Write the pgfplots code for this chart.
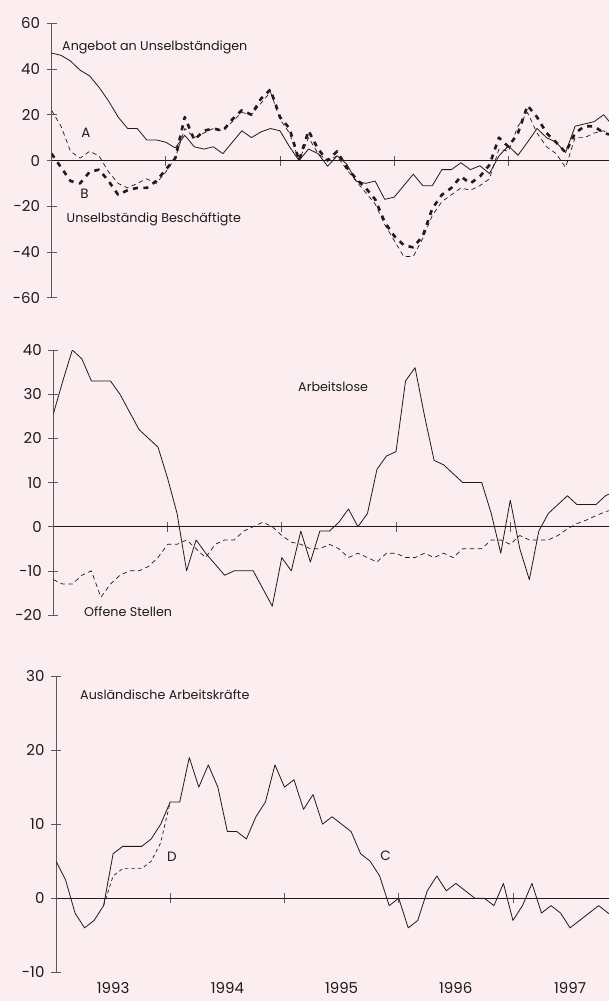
\documentclass[border=0pt]{standalone}
\usepackage{pgfplots}
\usepackage{pgfplotstable}
\pgfplotsset{compat=1.18}
\usepackage{fontspec}
\setmainfont{Poppins}

\definecolor{bgpink}{RGB}{252,237,241}
\definecolor{ink}{RGB}{28,28,28}
\definecolor{axisgray}{RGB}{90,90,90}

% Monthly changes against previous year, Jan 1993 = 0
\pgfplotstableread{
m  ang   a    b
0  47    22   3
1  46    15   -3
2  43.5  4    -9
3  39.5  1    -10
4  37    4    -5
5  32    2    -4
6  26    -5   -9
7  19    -10  -15
8  14    -12  -13
9  14    -10  -12
10 9     -8   -12
11 9     -10  -9
12 8     -5   -4
13 5.5   1    1
14 11    14   19
15 6     10   9
16 5     12   13
17 6     14   14
18 3     13   13
19 8     17   18
20 13    21   22
21 10    20   20
22 12.5  25   27
23 14    30   31
24 13    18   19
25 6     12   14
26 0     0    0
27 5     10   13
28 3     3    5
29 -2.5  0    0
30 2     2    4
31 -1.5  -4   -3
32 -9    -9   -8
33 -10   -14  -12
34 -9    -19  -17
35 -17   -28  -27
36 -16   -35  -33
37 -11   -42  -37
38 -6    -42  -38
39 -11   -34  -33
40 -11   -24  -21
41 -4    -18  -15
42 -4    -15  -12
43 -1    -12  -7
44 -4    -13  -10
45 -2.3  -11  -7
46 -5.7  -8   -2
47 2     5    10
48 6.4   4    6
49 2.3   15   12
50 8     21   24
51 14    12   19
52 10    6    12
53 8     3    8
54 3.5   -3   3.5
55 15    10   12
56 16    10   15
57 17    12   15
58 20    13   12
59 15    10   11
}\angebot

\pgfplotstableread{
m  arb   off
0  25.5  -12
1  33    -13
2  40    -13
3  38    -11
4  33    -10
5  33    -16
6  33    -13
7  30    -11
8  26    -10
9  22    -10
10 20    -9
11 18    -7
12 11    -4
13 3     -4
14 -10   -3
15 -3    -5
16 -6    -7
17 -8.5  -4
18 -11   -3
19 -10   -3
20 -10   -1
21 -10   0
22 -14   1
23 -18   0
24 -7    -2
25 -10   -3.5
26 -1    -4
27 -8    -5
28 -1    -5
29 -1    -4
30 1     -5
31 4     -7
32 0     -6
33 3     -7
34 13    -8
35 16    -6
36 17    -6
37 33    -7
38 36    -7
39 25    -6
40 15    -7
41 14    -6
42 12    -7
43 10    -5
44 10    -5
45 10    -5
46 3     -3
47 -6    -3
48 6     -4
49 -5    -2
50 -12   -3
51 -1    -3
52 3     -3
53 5     -2
54 7     -0.5
55 5     0.7
56 5     1.5
57 5     2.5
58 7     3.4
59 8     4
}\arbeitslose

\pgfplotstableread{
m  aus
0  5
1  2.5
2  -2
3  -4
4  -3
5  -1
6  6
7  7
8  7
9  7
10 8
11 10
12 13
13 13
14 19
15 15
16 18
17 15
18 9
19 9
20 8
21 11
22 13
23 18
24 15
25 16
26 12
27 14
28 10
29 11
30 10
31 9
32 6
33 5
34 3
35 -1
36 0
37 -4
38 -3
39 1
40 3
41 1
42 2
43 1
44 0
45 0
46 -1
47 2
48 -3
49 -1
50 2
51 -2
52 -1
53 -2
54 -4
55 -3
56 -2
57 -1
58 -2
59 -3
}\auslaender

\pgfplotstableread{
m  aus
5  -1
6  3
7  4
8  4
9  4
10 5
11 7.5
12 13
}\auslaenderD

\pgfplotsset{
  panel/.style={
    scale only axis,
    xmin=0,
    axis x line=middle,
    axis y line=left,
    x axis line style={-, line width=0.8pt, ink},
    y axis line style={-, line width=0.6pt, axisgray},
    xtick={12,24,36,48},
    xticklabels={},
    tick align=center,
    major tick length=10pt,
    every tick/.style={line width=0.6pt, axisgray},
    hide obscured y ticks=false,
    hide obscured x ticks=false,
    yticklabel style={font=\fontsize{15}{16}\selectfont, text=ink, xshift=-3pt},
    no marks,
    clip=true,
    every axis plot/.append style={line join=round},
  },
}

\begin{document}
\begin{tikzpicture}[x=1pt,y=1pt]
\path[clip] (0,0) rectangle (609,-1001);
\fill[bgpink] (0,0) rectangle (609,-1001);

% Panel 1: labour supply and employment
\begin{axis}[panel,
  at={(51.5pt,-297.7pt)}, anchor=south west,
  width=557.5pt, height=274.4pt,
  xmax=58.56, ymin=-60, ymax=60,
  ytick={-60,-40,-20,0,20,40,60},
  yticklabels={-60,-40,-20,0,20,40,60},
]
\addplot[ink, line width=0.8pt] table[x=m,y=ang] {\angebot};
\addplot[ink, line width=0.7pt, dash pattern=on 4.5pt off 3.5pt] table[x=m,y=a] {\angebot};
\addplot[ink, line width=2.6pt, dash pattern=on 5pt off 5.5pt] table[x=m,y=b] {\angebot};
\end{axis}

% Panel 2: unemployed and vacancies
\begin{axis}[panel,
  at={(53.3pt,-615pt)}, anchor=south west,
  width=555.7pt, height=265pt,
  xmax=58.37, ymin=-20, ymax=40,
  ytick={-20,-10,0,10,20,30,40},
  yticklabels={-20,-10,0,10,20,30,40},
]
\addplot[ink, line width=0.8pt] table[x=m,y=arb] {\arbeitslose};
\addplot[ink, line width=0.7pt, dash pattern=on 4.5pt off 3.5pt] table[x=m,y=off] {\arbeitslose};
\end{axis}

% Panel 3: foreign workers
\begin{axis}[panel,
  at={(56pt,-972.3pt)}, anchor=south west,
  width=553pt, height=296.3pt,
  xmax=58.09, ymin=-10, ymax=30,
  ytick={-10,0,10,20,30},
  yticklabels={-10,0,10,20,30},
]
\addplot[ink, line width=0.8pt] table[x=m,y=aus] {\auslaender};
\addplot[ink, line width=0.7pt, dash pattern=on 3.5pt off 3pt] table[x=m,y=aus] {\auslaenderD};
\end{axis}

% Series labels
\begin{scope}[every node/.style={text=ink, inner sep=0pt}]
\node[anchor=west, font=\fontsize{12.7}{14}\selectfont] at (62,-47.5) {Angebot an Unselbständigen};
\node[font=\fontsize{13.5}{14}\selectfont] at (86,-133) {A};
\node[font=\fontsize{13.5}{14}\selectfont] at (84.5,-194) {B};
\node[anchor=west, font=\fontsize{12.7}{14}\selectfont] at (66.5,-219) {Unselbständig Beschäftigte};
\node[anchor=west, font=\fontsize{12.7}{14}\selectfont] at (298,-387) {Arbeitslose};
\node[anchor=west, font=\fontsize{12.7}{14}\selectfont] at (84,-612) {Offene Stellen};
\node[anchor=west, font=\fontsize{12.7}{14}\selectfont] at (80,-695) {Ausländische Arbeitskräfte};
\node[font=\fontsize{13.5}{14}\selectfont] at (172,-856.5) {D};
\node[font=\fontsize{13.5}{14}\selectfont] at (385.5,-856) {C};
% Year labels
\foreach \yr/\xc in {1993/113.1, 1994/227.4, 1995/341.6, 1996/455.8, 1997/570.1}
  \node[anchor=base, font=\fontsize{15}{16}\selectfont] at (\xc,-993.5) {\yr};
\end{scope}
\end{tikzpicture}
\end{document}
